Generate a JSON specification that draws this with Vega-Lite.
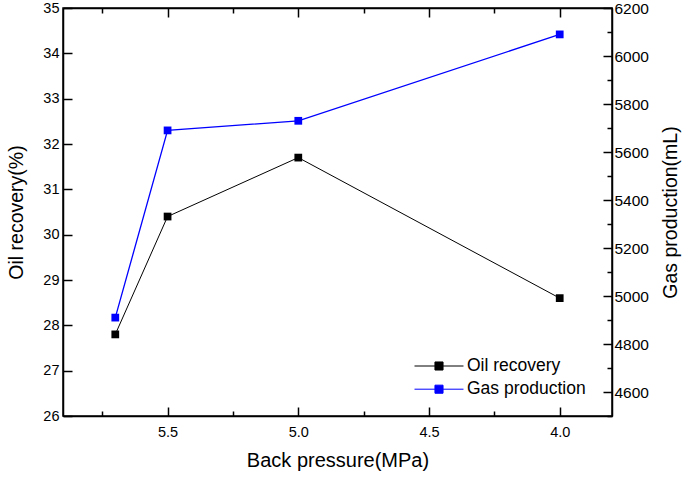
{
  "$schema": "https://vega.github.io/schema/vega-lite/v6.json",
  "width": 549,
  "height": 408,
  "autosize": {"type": "none"},
  "padding": {"left": 63, "top": 8, "right": 73, "bottom": 62},
  "background": "white",
  "data": {"values": [
    {"p": 5.7, "oil": 27.8, "gas": 4910},
    {"p": 5.5, "oil": 30.4, "gas": 5690},
    {"p": 5.0, "oil": 31.7, "gas": 5730},
    {"p": 4.0, "oil": 28.6, "gas": 6090}
  ]},
  "config": {
    "font": "Liberation Sans",
    "view": {"stroke": "black", "strokeWidth": 1.5},
    "axis": {
      "grid": false,
      "domainColor": "black", "domainWidth": 1.5,
      "tickColor": "black", "tickWidth": 1.5,
      "labelColor": "black", "titleColor": "black",
      "labelFont": "Liberation Sans", "titleFont": "Liberation Sans",
      "labelFontSize": 14.5, "titleFontSize": 19.5, "titleFontWeight": "normal"
    }
  },
  "layer": [
    {
      "encoding": {
        "x": {
          "field": "p", "type": "quantitative",
          "scale": {"domain": [3.8, 5.9], "reverse": true, "nice": false, "zero": false},
          "axis": {
            "orient": "bottom",
            "title": "Back pressure(MPa)",
            "titleFontSize": 20,
            "values": [5.75, 5.5, 5.25, 5.0, 4.75, 4.5, 4.25, 4.0],
            "format": ".1f",
            "labelExpr": "(datum.value * 2) % 1 === 0 ? datum.label : ''",
            "tickSize": {"condition": {"test": "(datum.value * 2) % 1 === 0", "value": -9}, "value": -5},
            "labelPadding": 18,
            "titlePadding": 12
          }
        },
        "y": {
          "field": "oil", "type": "quantitative",
          "scale": {"domain": [26, 35], "nice": false, "zero": false},
          "axis": {
            "orient": "left",
            "title": "Oil recovery(%)",
            "values": [26, 26.5, 27, 27.5, 28, 28.5, 29, 29.5, 30, 30.5, 31, 31.5, 32, 32.5, 33, 33.5, 34, 34.5, 35],
            "format": "d",
            "labelExpr": "datum.value % 1 === 0 ? datum.label : ''",
            "tickSize": {"condition": {"test": "datum.value % 1 === 0", "value": -9}, "value": -5},
            "labelPadding": 13,
            "titlePadding": 16
          }
        },
        "color": {
          "datum": "Oil recovery", "type": "nominal",
          "scale": {"domain": ["Oil recovery", "Gas production"], "range": ["#000000", "#0000FF"]},
          "legend": {
            "title": null,
            "orient": "none",
            "legendX": 363,
            "legendY": 345,
            "padding": 0,
            "symbolType": "M-2,0H-0.33M0.33,0H2M-0.33,-0.33H0.33V0.33H-0.33Z",
            "symbolSize": 600,
            "symbolStrokeWidth": 1,
            "labelFont": "Liberation Sans",
            "labelFontSize": 17.5,
            "labelColor": "black",
            "labelOffset": 15,
            "rowPadding": 1.2,
            "encode": {
              "symbols": {"update": {
                "fill": {"scale": "color", "field": "value"},
                "stroke": {"scale": "color", "field": "value"},
                "strokeWidth": {"value": 1}
              }}
            }
          }
        }
      },
      "layer": [
        {"mark": {"type": "line", "strokeWidth": 1, "color": "#333333"}},
        {"mark": {"type": "point", "shape": "square", "filled": true, "size": 60, "opacity": 1}}
      ]
    },
    {
      "encoding": {
        "x": {
          "field": "p", "type": "quantitative",
          "axis": {
            "orient": "top",
            "title": null,
            "labels": false,
            "values": [5.75, 5.5, 5.25, 5.0, 4.75, 4.5, 4.25, 4.0],
            "tickSize": {"condition": {"test": "(datum.value * 2) % 1 === 0", "value": -9}, "value": -5}
          }
        },
        "y": {
          "field": "gas", "type": "quantitative",
          "scale": {"domain": [4500, 6200], "nice": false, "zero": false},
          "axis": {
            "orient": "right",
            "title": "Gas production(mL)",
            "titleAngle": -90,
            "titleBaseline": "top",
            "labelFontSize": 15.5,
            "values": [4500, 4600, 4700, 4800, 4900, 5000, 5100, 5200, 5300, 5400, 5500, 5600, 5700, 5800, 5900, 6000, 6100, 6200],
            "labelExpr": "datum.value % 200 === 0 ? datum.label : ''",
            "format": "d",
            "tickSize": {"condition": {"test": "datum.value % 200 === 0", "value": -9}, "value": -5},
            "labelPadding": 11,
            "titlePadding": 13
          }
        },
        "color": {"datum": "Gas production", "type": "nominal"}
      },
      "layer": [
        {"mark": {"type": "line", "strokeWidth": 1.3}},
        {"mark": {"type": "point", "shape": "square", "filled": true, "size": 60, "opacity": 1}}
      ]
    }
  ],
  "resolve": {"scale": {"y": "independent"}, "axis": {"x": "independent"}}
}
